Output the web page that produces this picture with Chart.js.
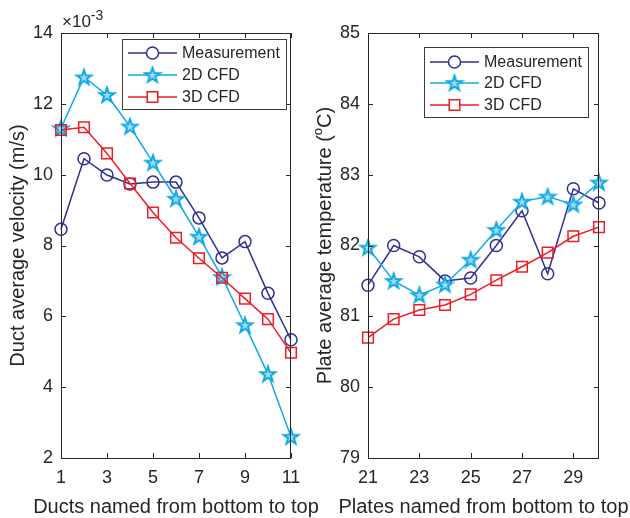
<!DOCTYPE html>
<html>
<head>
<meta charset="utf-8">
<script src="https://cdn.jsdelivr.net/npm/chart.js@4.4.1/dist/chart.umd.min.js"></script>
<style>
  body { margin: 0; background: #fff; }
  #wrap { position: relative; width: 630px; height: 518px; }
  .panel { position: absolute; top: 0; height: 518px; }
</style>
</head>
<body>
<div id="wrap">
  <div class="panel" style="left:0;width:330px"><canvas id="ductChart" width="330" height="518"></canvas></div>
  <div class="panel" style="left:315px;width:315px"><canvas id="plateChart" width="315" height="518"></canvas></div>
</div>
<script>
// left panel: duct velocities, in units of 1e-3 m/s
const ductIds = [1, 2, 3, 4, 5, 6, 7, 8, 9, 10, 11];
const ductMeasured = [8.46, 10.45, 9.99, 9.74, 9.79, 9.79, 8.78, 7.65, 8.11, 6.65, 5.34];
const duct2D = [11.31, 12.75, 12.25, 11.36, 10.34, 9.32, 8.25, 7.11, 5.75, 4.37, 2.6];
const duct3D = [11.26, 11.34, 10.6, 9.75, 8.93, 8.22, 7.64, 7.09, 6.5, 5.92, 4.97];
const ductXTicks = [1, 3, 5, 7, 9, 11];
const ductYTicks = [2, 4, 6, 8, 10, 12, 14];

// right panel: plate temperatures, degC
const plateIds = [21, 22, 23, 24, 25, 26, 27, 28, 29, 30];
const plateMeasured = [81.44, 82.0, 81.84, 81.5, 81.54, 82.0, 82.49, 81.6, 82.8, 82.6];
const plate2D = [81.97, 81.5, 81.3, 81.45, 81.8, 82.22, 82.62, 82.69, 82.58, 82.89];
const plate3D = [80.7, 80.96, 81.09, 81.16, 81.31, 81.51, 81.7, 81.9, 82.13, 82.26];
const plateXTicks = [21, 23, 25, 27, 29];
const plateYTicks = [79, 80, 81, 82, 83, 84, 85];

const seriesNames = ['Measurement', '2D CFD', '3D CFD'];

const NAVY = '#2e3192';
const CYAN = '#0fa9e6';
const RED = '#ee1c25';
const INK = '#262626';
const FONT = '"Liberation Sans", Arial, Helvetica, sans-serif';

function makeStar(color, fill, outer, inner) {
    const size = Math.ceil(outer * 2 + 4);
    const c = document.createElement('canvas');
    c.width = size;
    c.height = size;
    const g = c.getContext('2d');
    g.translate(size / 2, size / 2 + 0.5);
    g.beginPath();
    for (let i = 0; i < 10; i++) {
        const r = i % 2 ? inner : outer;
        const a = -Math.PI / 2 + i * Math.PI / 5;
        g.lineTo(r * Math.cos(a), r * Math.sin(a));
    }
    g.closePath();
    g.fillStyle = fill;
    g.fill();
    g.strokeStyle = color;
    g.lineWidth = 2;
    g.stroke();
    return c;
}

const starImg = makeStar(CYAN, '#9fdcf5', 7.8, 3.1);

const makeDatasets = (xs, meas, cfd2, cfd3) => [
    {
        label: seriesNames[0],
        data: xs.map((x, i) => ({ x: x, y: meas[i] })),
        borderColor: NAVY, backgroundColor: 'transparent',
        pointStyle: 'circle', pointRadius: 6, pointBorderWidth: 1.5,
        borderWidth: 1.5, order: 3, clip: false
    },
    {
        label: seriesNames[1],
        data: xs.map((x, i) => ({ x: x, y: cfd2[i] })),
        borderColor: CYAN, backgroundColor: 'transparent',
        pointStyle: starImg, pointRadius: 8,
        borderWidth: 1.5, order: 2, clip: false
    },
    {
        label: seriesNames[2],
        data: xs.map((x, i) => ({ x: x, y: cfd3[i] })),
        borderColor: RED, backgroundColor: 'transparent',
        pointStyle: 'rect', pointRadius: 7.5, pointBorderWidth: 1.5,
        borderWidth: 1.5, order: 1, clip: false
    }
];

// box, inward ticks, axis titles, exponent note and legend (MATLAB look)
const matlabAxes = {
    id: 'matlabAxes',
    afterDraw(chart) {
        const o = chart.options.plugins.matlabAxes;
        const ctx = chart.ctx;
        const a = chart.chartArea;
        const xs = chart.scales.x, ys = chart.scales.y;
        ctx.save();
        ctx.strokeStyle = INK;
        ctx.lineWidth = 1;
        ctx.strokeRect(a.left + 0.5, a.top + 0.5, a.right - a.left - 1, a.bottom - a.top);
        const tl = 5;
        ctx.beginPath();
        xs.ticks.forEach(t => {
            const px = Math.round(xs.getPixelForValue(t.value)) + 0.5;
            ctx.moveTo(px, a.bottom); ctx.lineTo(px, a.bottom - tl);
            ctx.moveTo(px, a.top); ctx.lineTo(px, a.top + tl);
        });
        ys.ticks.forEach(t => {
            const py = Math.round(ys.getPixelForValue(t.value)) + 0.5;
            ctx.moveTo(a.left, py); ctx.lineTo(a.left + tl, py);
            ctx.moveTo(a.right, py); ctx.lineTo(a.right - tl, py);
        });
        ctx.stroke();

        ctx.fillStyle = INK;
        // x title
        ctx.font = '20px ' + FONT;
        ctx.textAlign = 'center';
        ctx.textBaseline = 'alphabetic';
        ctx.fillText(o.xTitle, (a.left + a.right) / 2, 513);

        // y title, rotated, with optional superscript parts
        ctx.save();
        ctx.translate(o.yTitleX, (a.top + a.bottom) / 2);
        ctx.rotate(-Math.PI / 2);
        ctx.textBaseline = 'middle';
        ctx.textAlign = 'left';
        const parts = o.yTitle;
        const width = parts.reduce((s, p) => {
            ctx.font = (p.sup ? '13px ' : '20px ') + FONT;
            return s + ctx.measureText(p.text).width;
        }, 0);
        let cx = -width / 2;
        parts.forEach(p => {
            ctx.font = (p.sup ? '13px ' : '20px ') + FONT;
            ctx.fillText(p.text, cx, p.sup ? -7 : 0);
            cx += ctx.measureText(p.text).width;
        });
        ctx.restore();

        // exponent note above the y axis
        if (o.exponent) {
            ctx.textAlign = 'left';
            ctx.textBaseline = 'alphabetic';
            ctx.font = '17px ' + FONT;
            ctx.fillText('\u00d710', a.left + 1, 27);
            const w = ctx.measureText('\u00d710').width;
            ctx.font = '14px ' + FONT;
            ctx.fillText(o.exponent, a.left + 1 + w, 20);
        }

        // legend
        const L = o.legend;
        ctx.fillStyle = '#fff';
        ctx.fillRect(L.x, L.y, L.w, L.h);
        ctx.strokeStyle = '#3a3a3a';
        ctx.lineWidth = 1;
        ctx.strokeRect(L.x + 0.5, L.y + 0.5, L.w, L.h);
        chart.data.datasets.forEach((ds, i) => {
            const ry = L.y + L.rows[i];
            ctx.strokeStyle = ds.borderColor;
            ctx.lineWidth = 1.5;
            ctx.beginPath();
            ctx.moveTo(L.x + 6, ry);
            ctx.lineTo(L.x + 55, ry);
            ctx.stroke();
            ctx.fillStyle = '#fff';
            Chart.helpers.drawPoint(ctx, {
                pointStyle: ds.pointStyle, radius: ds.pointRadius,
                rotation: 0, borderWidth: ds.pointBorderWidth || 1.5
            }, L.x + 30.5, ry);
            ctx.fillStyle = INK;
            ctx.font = '16px ' + FONT;
            ctx.textAlign = 'left';
            ctx.textBaseline = 'middle';
            ctx.fillText(ds.label, L.x + 60, ry + 1);
        });
        ctx.restore();
    }
};

const makeChart = (canvasId, datasets, xr, yr, xTicks, yTicks, axisW, padRight, extra) => {
    const ctx = document.getElementById(canvasId).getContext('2d');
    return new Chart(ctx, {
        type: 'line',
        data: { datasets: datasets },
        options: {
            responsive: false,
            animation: false,
            layout: { padding: { left: 0, right: padRight, top: 33, bottom: 0 } },
            elements: { line: { tension: 0 } },
            scales: {
                x: {
                    type: 'linear', min: xr[0], max: xr[1],
                    grid: { display: false, drawTicks: false },
                    border: { display: false },
                    ticks: { font: { family: FONT, size: 18 }, color: INK, padding: 9, maxRotation: 0 },
                    afterBuildTicks: s => { s.ticks = xTicks.map(v => ({ value: v })); },
                    afterFit: s => { s.height = 60; }
                },
                y: {
                    type: 'linear', min: yr[0], max: yr[1],
                    grid: { display: false, drawTicks: false },
                    border: { display: false },
                    ticks: { font: { family: FONT, size: 18 }, color: INK, padding: 8 },
                    afterBuildTicks: s => { s.ticks = yTicks.map(v => ({ value: v })); },
                    afterFit: s => { s.width = axisW; }
                }
            },
            plugins: {
                legend: { display: false },
                tooltip: { enabled: false },
                matlabAxes: extra
            }
        },
        plugins: [matlabAxes]
    });
};

makeChart('ductChart', makeDatasets(ductIds, ductMeasured, duct2D, duct3D),
    [1, 11], [2, 14], ductXTicks, ductYTicks, 61, 39, {
        xTitle: 'Ducts named from bottom to top',
        yTitle: [{ text: 'Duct average velocity (m/s)' }],
        yTitleX: 18,
        exponent: '-3',
        legend: { x: 122, y: 39, w: 164, h: 70, rows: [14, 36, 58] }
    });

makeChart('plateChart', makeDatasets(plateIds, plateMeasured, plate2D, plate3D),
    [21, 30], [79, 85], plateXTicks, plateYTicks, 53, 31, {
        xTitle: 'Plates named from bottom to top',
        yTitle: [
            { text: 'Plate average temperature (' },
            { text: 'o', sup: true },
            { text: 'C)' }
        ],
        yTitleX: 10,
        exponent: null,
        legend: { x: 109, y: 47, w: 164, h: 70, rows: [15, 36, 58] }
    });
</script>
</body>
</html>
